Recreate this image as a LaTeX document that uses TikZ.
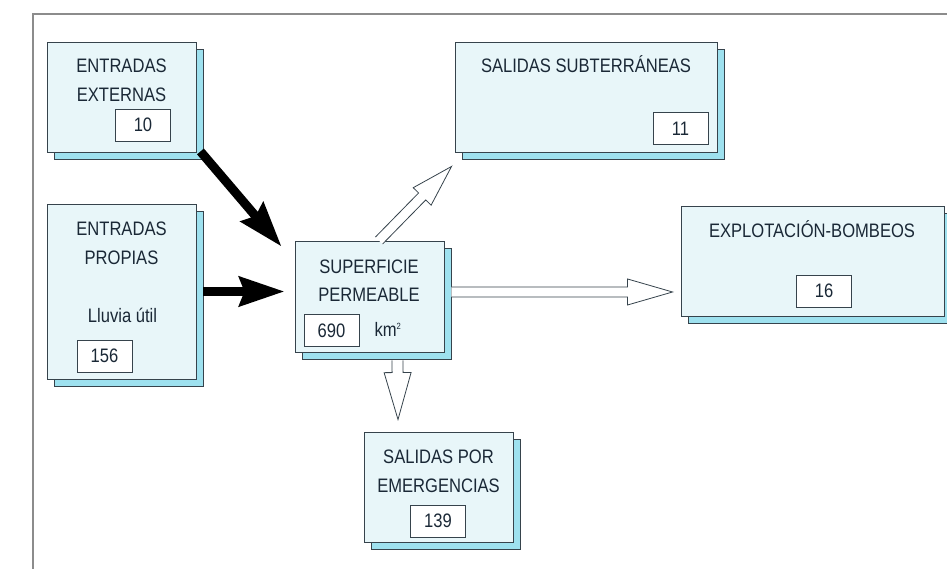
\documentclass[tikz,border=0pt]{standalone}
\usepackage{fontspec}
\setmainfont{Liberation Sans}[FakeStretch=0.85]
\usetikzlibrary{shadows,calc,arrows.meta}
\definecolor{edge}{HTML}{36434C}
\definecolor{boxfill}{HTML}{E8F6F9}
\definecolor{shfill}{HTML}{9EE1EF}
\definecolor{txt}{HTML}{1A2836}
\definecolor{framec}{HTML}{8C8C8C}
\newcommand\harrow[5]{%
  \draw[hollowline] ($(#1)!#3!-90:(#2)$) -- ($(#2)!#5!(#1)!#3!-90:(#2)$)
    -- ($(#2)!#5!(#1)!#4!-90:(#2)$) -- (#2)
    -- ($(#2)!#5!(#1)!#4!90:(#2)$) -- ($(#2)!#5!(#1)!#3!90:(#2)$)
    -- ($(#1)!#3!90:(#2)$);}
\begin{document}
\begin{tikzpicture}[x=1pt,y=1pt,
  every node/.style={font=\fontsize{19.5}{22}\selectfont, text=txt, inner sep=0pt},
  box/.style={draw=edge, line width=0.9pt, fill=boxfill,
    copy shadow={shadow xshift=7pt, shadow yshift=-7pt, fill=shfill, draw=edge},
    minimum width=149pt, minimum height=110pt},
  numbox/.style={draw=edge, line width=0.8pt, fill=white, minimum width=55pt, minimum height=32pt},
  lbl/.style={anchor=base},
  blk/.style={line width=9pt, draw=black, -{Stealth[length=45pt,width=29pt,inset=5pt]}},
  hollowline/.style={draw=edge, line width=0.8pt, fill=white},
  framel/.style={draw=framec, line width=1.2pt}]
\useasboundingbox (0,0) rectangle (947,569);
\coordinate (fb) at (33,0);
\coordinate (fc) at (33,555);
\coordinate (fr) at (947,555);
\draw[framel] (fb) -- (fc) -- (fr);

% boxes
\node[box] (ext) at (121.5,472) {};
\node[box, minimum height=175pt] (prop) at (121.5,277.5) {};
\node[box, minimum height=111pt] (sup) at (369.5,272.5) {};
\node[box, minimum width=262pt] (sub) at (586,472) {};
\node[box, minimum width=263pt] (exp) at (812.5,308) {};
\node[box] (eme) at (438.5,82) {};

% labels
\node[lbl] (t1) at (121.5,496) {ENTRADAS};
\node[lbl] (t2) at (121.5,467) {EXTERNAS};
\node[lbl] (t3) at (121.5,333) {ENTRADAS};
\node[lbl] (t4) at (121.5,304) {PROPIAS};
\node[lbl] (t5) at (122.5,246) {Lluvia útil};
\node[lbl] (t6) at (369,295) {SUPERFICIE};
\node[lbl] (t7) at (369,267) {PERMEABLE};
\node[lbl] (t8) at (388,232) {km\textsuperscript{\fontsize{9}{9}\selectfont 2}};
\node[lbl] (t9) at (586,496) {SALIDAS SUBTERRÁNEAS};
\node[lbl] (t10) at (812,331) {EXPLOTACIÓN-BOMBEOS};
\node[lbl] (t11) at (438.5,105) {SALIDAS POR};
\node[lbl] (t12) at (438.5,76) {EMERGENCIAS};

% numbers
\node[numbox] (n10) at (143,444) {10};
\node[numbox] (n156) at (104.5,213) {156};
\node[numbox] (n690) at (331.5,238.5) {690};
\node[numbox] (n11) at (680.5,440.5) {11};
\node[numbox] (n16) at (824,278) {16};
\node[numbox] (n139) at (438,48) {139};

% arrow ends
\coordinate (a1s) at ($(ext.south east)+(4,1)$);
\coordinate (a1e) at ($(sup.north west)+(-13,-6)$);
\coordinate (a2s) at ($(prop.east)+(7,0)$);
\coordinate (a2e) at ($(sup.west)+(-10,5)$);
\coordinate (h1s) at ($(sup.north)+(9.5,0)$);
\coordinate (h1e) at ($(sub.south west)+(-3,-14)$);
\coordinate (h2s) at ($(sup.east)+(7,4.5)$);
\coordinate (h2e) at ($(exp.west)+(-8,-31)$);
\coordinate (h3s) at ($(sup.south)+(28,-8)$);
\coordinate (h3e) at ($(eme.north)+(-40.5,12)$);

\draw[blk] (a1s) -- (a1e);
\draw[blk] (a2s) -- (a2e);
\harrow{h1s}{h1e}{5pt}{12.5pt}{42pt}
\harrow{h2s}{h2e}{5pt}{13pt}{45pt}
\harrow{h3s}{h3e}{5.5pt}{13.5pt}{47pt}
\end{tikzpicture}
\end{document}
